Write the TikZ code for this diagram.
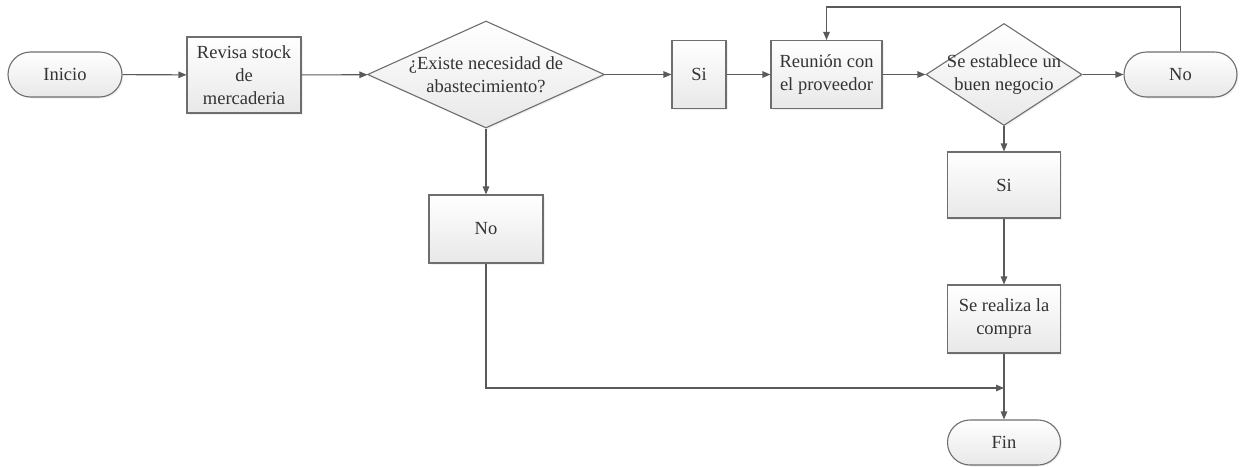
\documentclass[tikz,border=0pt]{standalone}
\usepackage{fontspec}
\setmainfont{LiberationSerif-Regular.ttf}
\usetikzlibrary{shapes.geometric,arrows.meta,shadows}
\definecolor{bordc}{HTML}{6E6E6E}
\definecolor{linec}{HTML}{5A5A5A}
\definecolor{txtc}{HTML}{333333}
\newcommand\dgfont{\fontsize{18.5}{23}\selectfont}
\begin{document}
\begin{tikzpicture}[x=1pt,y=-1pt,
  base/.style={draw=bordc, line width=1.1pt, top color=white, bottom color=black!9,
    text=txtc, font=\dgfont, align=center, inner sep=0pt,
    drop shadow={opacity=0.12, shadow xshift=1.5pt, shadow yshift=-1.5pt}},
  procbox/.style={base, rectangle},
  term/.style={base, rectangle, rounded corners=22.5pt, minimum width=114pt, minimum height=45pt},
  decbox/.style={base, diamond},
  lbl/.style={text=txtc, font=\dgfont, align=center, inner sep=0pt},
  conn/.style={draw=linec, line width=1.1pt, -{Triangle[length=8pt,width=6.5pt]}}
]
\useasboundingbox (0,0) rectangle (1246,466);

\node[term] (ini) at (65,74.5) {Inicio};
\node[procbox, minimum width=114pt, minimum height=76pt] (rev) at (244,75) {Revisa stock\\de\\mercaderia};
\node[decbox, minimum width=237pt, minimum height=107pt] (d1) at (486,74.5) {};
\node[lbl] (d1t) at (d1) {¿Existe necesidad de\\abastecimiento?};
\node[procbox, minimum width=54pt, minimum height=68pt] (si1) at (699,74.5) {Si};
\node[procbox, minimum width=111pt, minimum height=68pt] (reu) at (826.5,74.5) {Reunión con\\el proveedor};
\node[decbox, minimum width=156pt, minimum height=102pt] (d2) at (1004,74.5) {};
\node[lbl] (d2t) at (d2) {Se establece un\\buen negocio};
\node[term, minimum width=113pt] (no1) at (1180.5,74.5) {No};
\node[procbox, minimum width=114pt, minimum height=68pt] (no2) at (486,229) {No};
\node[procbox, minimum width=113pt, minimum height=66pt] (si2) at (1004,185) {Si};
\node[procbox, minimum width=113pt, minimum height=68pt] (comp) at (1004,319) {Se realiza la\\compra};
\node[term, minimum width=113pt] (fin) at (1004,442.5) {Fin};

\coordinate (top) at (0,7);
\coordinate (mrg) at (1004,388);

\draw[conn] (ini) -- (rev);
\draw[conn] (rev) -- (d1);
\draw[conn] (d1) -- (si1);
\draw[conn] (si1) -- (reu);
\draw[conn] (reu) -- (d2);
\draw[conn] (d2) -- (no1);
\draw[conn] (no1.north) -- (no1.north |- top) -| (reu.north);
\draw[conn] (d1) -- (no2);
\draw[conn] (d2) -- (si2);
\draw[conn] (si2) -- (comp);
\draw[conn] (comp) -- (fin);
\draw[conn] (no2.south) |- (mrg);
\end{tikzpicture}
\end{document}
